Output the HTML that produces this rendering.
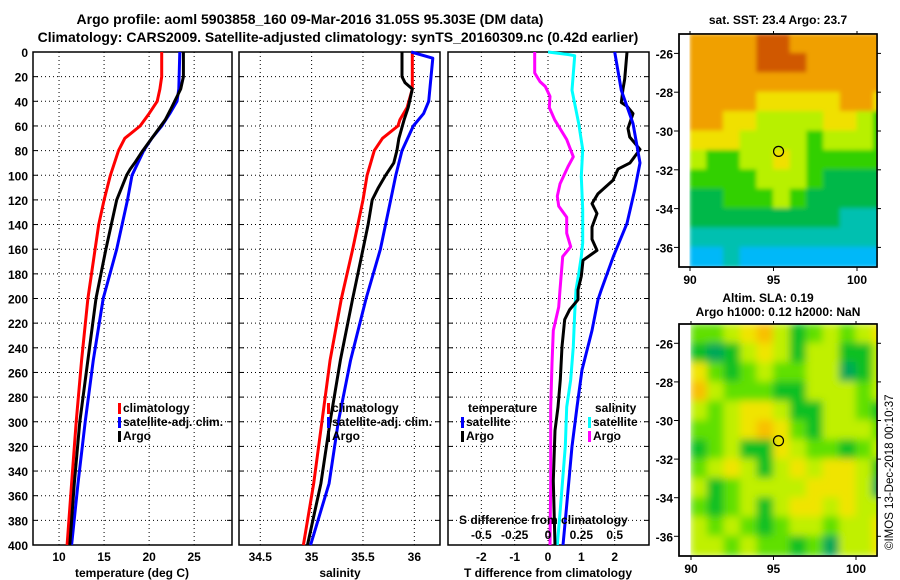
<!DOCTYPE html>
<html><head><meta charset="utf-8"><style>
html,body{margin:0;padding:0;background:#fff;}
svg{display:block;}
text{font-family:"Liberation Sans",sans-serif;font-weight:bold;fill:#000;}
</style></head><body>
<svg id="c" width="900" height="580" viewBox="0 0 900 580">
<defs>
<filter id="blur1" x="0" y="0" width="100%" height="100%"><feGaussianBlur stdDeviation="2"/></filter>
<filter id="blur2" x="0" y="0" width="100%" height="100%"><feGaussianBlur stdDeviation="4"/></filter>
<clipPath id="clipTop"><rect x="689" y="34" width="188" height="233"/></clipPath>
<clipPath id="clipBot"><rect x="689" y="324" width="188" height="232"/></clipPath>
</defs>
<text x="310" y="24" font-size="14" text-anchor="middle">Argo profile: aoml 5903858_160 09-Mar-2016 31.05S 95.303E (DM data)</text>
<text x="338" y="42" font-size="14" text-anchor="middle">Climatology: CARS2009. Satellite-adjusted climatology: synTS_20160309.nc (0.42d earlier)</text>
<g id="g"></g>
<text x="778" y="24" font-size="12" text-anchor="middle">sat. SST: 23.4 Argo: 23.7</text>
<text x="768" y="302" font-size="12" text-anchor="middle">Altim. SLA: 0.19</text>
<text x="778" y="316" font-size="12" text-anchor="middle">Argo h1000: 0.12 h2000: NaN</text>
<text transform="translate(893,550) rotate(-90)" font-size="11.5" style="font-weight:normal">©IMOS 13-Dec-2018 00:10:37</text>
</svg>
<script>
// ---------- data ----------
const depthTicks=[0,20,40,60,80,100,120,140,160,180,200,220,240,260,280,300,320,340,360,380,400];
const tempTicks=[10,15,20,25];
const salTicks=[34.5,35,35.5,36];
const tdiffTicks=[-2,-1,0,1,2];
const sdiffTicks=[-0.5,-0.25,0,0.25,0.5];
const sdiffLabels=["-0.5","-0.25","0","0.25","0.5"];
const tClimD=[0,20,30,40,50,60,70,80,100,120,140,160,200,250,300,350,400];
const tClimV=[21.4,21.4,21.2,20.9,20.0,19.0,17.3,16.6,15.7,15.0,14.4,14.0,13.2,12.5,11.9,11.4,10.9];
const tSatD=[0,30,40,50,60,70,80,100,120,160,200,250,300,350,400];
const tSatV=[23.4,23.3,23.1,22.3,21.4,20.3,19.4,18.1,17.6,16.4,14.9,13.8,12.9,12.1,11.4];
const tArgoD=[0,20,30,45,55,70,80,90,95,100,120,140,160,200,250,300,350,400];
const tArgoV=[23.8,23.8,23.5,22.5,21.8,20.3,19.3,18.4,17.9,17.5,16.4,15.8,15.2,14.1,13.2,12.3,11.7,11.2];
const sClimD=[0,30,45,55,60,70,80,100,120,160,200,250,300,350,400];
const sClimV=[35.98,35.98,35.93,35.86,35.84,35.69,35.61,35.54,35.50,35.40,35.29,35.18,35.10,35.02,34.92];
const sSatD=[0,5,40,50,60,80,100,120,160,200,250,300,350,400];
const sSatV=[35.97,36.18,36.14,36.09,35.99,35.88,35.82,35.77,35.67,35.53,35.38,35.26,35.17,34.99];
const sArgoD=[0,20,25,30,45,55,70,80,90,100,110,120,140,160,200,250,300,350,400];
const sArgoV=[35.88,35.88,35.91,35.98,35.94,35.90,35.85,35.83,35.80,35.72,35.65,35.59,35.55,35.50,35.40,35.28,35.18,35.09,34.96];
const dtSatD=[0,31,58,90,112,139,166,193,201,226,258,288,320,374,400];
const dtSatV=[2.0,2.2,2.55,2.76,2.6,2.37,1.96,1.6,1.5,1.32,1.02,0.87,0.72,0.54,0.45];
const dtArgoD=[0,22,30,41,44,50,62,69,79,90,95,104,115,123,131,142,152,161,169,182,193,201,209,217,239,266,288,307,348,400];
const dtArgoV=[2.37,2.3,2.25,2.2,2.37,2.55,2.4,2.45,2.76,2.46,2.1,1.95,1.5,1.32,1.47,1.32,1.32,1.47,1.05,1.0,0.9,0.9,0.65,0.5,0.42,0.37,0.3,0.21,0.16,0.21];
const dsSatD=[0,2,3,31,58,79,101,128,155,166,180,193,212,239,266,288,320,374,400];
const dsSatV=[0,0.15,0.2,0.18,0.23,0.26,0.25,0.26,0.26,0.25,0.23,0.21,0.2,0.19,0.17,0.14,0.13,0.09,0.07];
const dsArgoD=[0,17,24,28,36,45,55,71,85,93,107,117,125,134,147,158,166,193,207,226,253,288,348,400];
const dsArgoV=[-0.1,-0.1,-0.06,-0.02,0.015,0.01,0.05,0.14,0.19,0.15,0.09,0.07,0.08,0.14,0.14,0.17,0.11,0.09,0.08,0.04,0.03,0.02,0.02,0.015];
const sstLat=[-25.5,-26.5,-27.5,-28.5,-29.5,-30.5,-31.5,-32.5,-33.5,-34.5,-35.5,-36.5];
const sstLon=[90.5,91.5,92.5,93.5,94.5,95.5,96.5,97.5,98.5,99.5,100.5,101.5];
const sstGrid=[
[1,1,1,0.5,0,0,0.5,1,1,1,1,1],
[1,1,1,0.5,0,0,0,1,1,1,1,1],
[1,1,1,1,0.5,0.5,1,1,1,1,1,1],
[1,1,1,1,1.5,2,2,2,1.5,1,1,1.5],
[1,1,1.5,2,3,3,3,2.5,2,2,2.5,4],
[2,1.5,2,2.5,3,2.5,2.5,3.5,3,2.5,3,4],
[3,3.5,3.5,2.5,3,2,3,4,4,4,4,4],
[4,4,4,3.5,3,2.5,3,4,4.5,5,5,5],
[4.5,4.5,4,4,3.5,3,3.5,5,5,5,5,5],
[5,5,5,5,4.5,5,5,5,5,5.5,6,6],
[5.5,5.5,6,5.5,5.5,6,6,6,6,6,6,6],
[6.5,6.5,6,6.5,7,7,7,7,7,6.5,7,7]];
const slaLat=[-25.5,-26.5,-27.5,-28.5,-29.5,-30.5,-31.5,-32.5,-33.5,-34.5,-35.5,-36.5];
const slaLon=[90.5,91.5,92.5,93.5,94.5,95.5,96.5,97.5,98.5,99.5,100.5,101.5];
const slaGrid=[
[1,1,2,3,4,2,0,1,2,1,2,3],
[0,-1,0,2,3,2,0,2,2,0,0,2],
[3,1,0,1,2,1,1,2,2,-1,0,2],
[4,2,1,1,1,0,0,2,2,2,1,2],
[2,1,2,3,3,2,0,0,2,2,1,0],
[1,1,2,3,4,3,1,0,2,2,2,1],
[0,1,2,0,0,3,2,1,1,0,1,2],
[1,2,3,2,0,2,3,2,3,3,2,0],
[2,0,1,2,2,2,2,3,3,3,2,-1],
[1,0,1,2,0,2,3,3,2,3,2,2],
[2,1,2,1,0,1,2,2,1,2,2,3],
[2,2,1,2,1,1,0,1,-1,2,2,3]];
const latTicks=[-26,-28,-30,-32,-34,-36];
const lonTicks=[90,95,100];
const argoLon=95.303, argoLat=-31.05;

// ---------- helpers ----------
const NS='http://www.w3.org/2000/svg';
const G=document.getElementById('g');
function mk(tag,at,parent){const e=document.createElementNS(NS,tag);for(const k in at)e.setAttribute(k,at[k]);(parent||G).appendChild(e);return e;}
const yTop=52,yBot=545;
function yD(d){return yTop+(yBot-yTop)*d/400;}
const panels=[
 {x0:33,x1:232,v0:7.11,v1:29.2},
 {x0:239,x1:440,v0:34.293,v1:36.25},
 {x0:448,x1:649,v0:-3.0,v1:3.03}
];
function xf(p,v){return p.x0+(p.x1-p.x0)*(v-p.v0)/(p.v1-p.v0);}
function sx(v){return xf(panels[2],v*4);}

function drawFrame(p,name,vt){
  for(const d of depthTicks){if(d===0||d===400)continue;
    const l=mk('line',{x1:p.x0,x2:p.x1,y1:yD(d),y2:yD(d),stroke:'#000','stroke-width':1,'stroke-dasharray':'1,3'});
    
    
    mk('line',{x1:p.x0,x2:p.x0+5,y1:yD(d),y2:yD(d),stroke:'#000'});
    mk('line',{x1:p.x1-5,x2:p.x1,y1:yD(d),y2:yD(d),stroke:'#000'});
  }
  for(const v of vt){const x=xf(p,v);
    const l=mk('line',{x1:x,x2:x,y1:yTop,y2:yBot,stroke:'#000','stroke-width':1,'stroke-dasharray':'1,3'});
    
    
  }
  const r=mk('rect',{x:p.x0,y:yTop,width:p.x1-p.x0,height:yBot-yTop,fill:'none',stroke:'#000','stroke-width':1.5});
  
  
}
function line(p,D,V,color,name,fn){
  let s='';for(let i=0;i<D.length;i++){const x=fn?fn(V[i]):xf(p,V[i]);s+=(i?'L':'M')+x.toFixed(1)+','+yD(D[i]).toFixed(1);}
  const e=mk('path',{d:s,fill:'none',stroke:color,'stroke-width':3,'stroke-linejoin':'round'});
  
  
}
function txt(x,y,s,size,anchor,name){const t=mk('text',{x:x,y:y,'font-size':size,'text-anchor':anchor||'start'});t.textContent=s;
  
  return t;}
function legend(x,y,color,label,name){
  const r=mk('rect',{x:x,y:y-9,width:3,height:11,fill:color});
  
  
  txt(x+5,y,label,12,'start',name+'-label');
}

drawFrame(panels[0],'temperature-panel',tempTicks);
drawFrame(panels[1],'salinity-panel',salTicks);
drawFrame(panels[2],'difference-panel',tdiffTicks);
for(const d of depthTicks)txt(28,yD(d)+5,String(d),12,'end','depth-tick-label');
for(const v of tempTicks)txt(xf(panels[0],v),561,String(v),12,'middle','temperature-tick-label');
for(const v of salTicks)txt(xf(panels[1],v),561,String(v),12,'middle','salinity-tick-label');
for(const v of tdiffTicks)txt(xf(panels[2],v),561,String(v),12,'middle','tdiff-tick-label');
txt(132,577,'temperature (deg C)',12,'middle','temperature-axis-title');
txt(340,577,'salinity',12,'middle','salinity-axis-title');
txt(548,577,'T difference from climatology',12,'middle','tdiff-axis-title');

line(panels[0],tClimD,tClimV,'#ff0000','temp-climatology-line');
line(panels[0],tSatD,tSatV,'#0000ff','temp-satellite-line');
line(panels[0],tArgoD,tArgoV,'#000000','temp-argo-line');
line(panels[1],sClimD,sClimV,'#ff0000','sal-climatology-line');
line(panels[1],sSatD,sSatV,'#0000ff','sal-satellite-line');
line(panels[1],sArgoD,sArgoV,'#000000','sal-argo-line');
line(panels[2],dsArgoD,dsArgoV,'#ff00ff','sdiff-argo-line',sx);
line(panels[2],dsSatD,dsSatV,'#00ffff','sdiff-satellite-line',sx);
line(panels[2],dtArgoD,dtArgoV,'#000000','tdiff-argo-line');
line(panels[2],dtSatD,dtSatV,'#0000ff','tdiff-satellite-line');

legend(118,412,'#ff0000','climatology','temp-legend-climatology');
legend(118,426,'#0000ff','satellite-adj. clim.','temp-legend-satellite');
legend(118,440,'#000000','Argo','temp-legend-argo');
legend(327,412,'#ff0000','climatology','sal-legend-climatology');
legend(327,426,'#0000ff','satellite-adj. clim.','sal-legend-satellite');
legend(327,440,'#000000','Argo','sal-legend-argo');
txt(468,412,'temperature',12,'start','diff-legend-temp-header');
legend(461,426,'#0000ff','satellite','diff-legend-temp-satellite');
legend(461,440,'#000000','Argo','diff-legend-temp-argo');
txt(595,412,'salinity',12,'start','diff-legend-sal-header');
legend(588,426,'#00ffff','satellite','diff-legend-sal-satellite');
legend(588,440,'#ff00ff','Argo','diff-legend-sal-argo');
txt(459,524,'S difference from climatology',12,'start','sdiff-axis-title');
for(let i=0;i<sdiffTicks.length;i++)txt(sx(sdiffTicks[i]),539,sdiffLabels[i],12,'middle','sdiff-tick-label');

const sstPal=['#d05800','#f0a000','#f0e000','#b8f000','#30d000','#00b848','#00c0b0','#00b8f8','#0050e8'];
const slaPal=['#00a858','#10c020','#60e000','#c0f000','#f0e400','#f8c000'];
function pal(P,v){const i=Math.max(0,Math.min(P.length-1,Math.round(v)));return P[i];}
function drawMap(m){
  const lx=v=>m.x90+(v-90)*m.pxLon, ly=v=>m.yTop+(-25-v)*m.pxLat;
  const fr=mk('rect',{x:m.fx,y:m.yTop,width:m.x1-m.fx,height:m.yB-m.yTop,fill:'#fff',stroke:'#000','stroke-width':1.5});
  
  
  const cg=mk('g',{'clip-path':'url(#'+m.clip+')'});
  const ig=mk('g',{filter:'url(#'+m.filter+')'},cg);
  for(let r=0;r<m.lat.length;r++)for(let c=0;c<m.lon.length;c++){
    const x=lx(m.lon[c]-0.5),y=ly(m.lat[r]+0.5);
    const e=mk('rect',{x:x-0.5,y:y-0.5,width:m.pxLon+1.5,height:m.pxLat+1.5,fill:pal(m.P,m.grid[r][c]+m.off)},ig);
    
    
  }
  mk('rect',{x:m.fx,y:m.yTop,width:m.x1-m.fx,height:m.yB-m.yTop,fill:'none',stroke:'#000','stroke-width':1.5});
  for(const t of latTicks){const y=ly(t);
    mk('line',{x1:m.fx,x2:m.fx-5,y1:y,y2:y,stroke:'#000'});mk('line',{x1:m.x1,x2:m.x1+4,y1:y,y2:y,stroke:'#000'});
    txt(m.fx-6,y+5,String(t),12,'end',m.name+'-lat-label');}
  for(const t of lonTicks){const x=lx(t);
    mk('line',{x1:x,x2:x,y1:m.yB,y2:m.yB+4,stroke:'#000'});mk('line',{x1:x,x2:x,y1:m.yTop,y2:m.yTop-3,stroke:'#000'});
    txt(x,m.yB+17,String(t),12,'middle',m.name+'-lon-label');}
  const ci=mk('circle',{cx:lx(argoLon),cy:ly(argoLat),r:5,fill:'none',stroke:'#000','stroke-width':1.2});
  
  
}
drawMap({name:'sst-map',fx:679,x1:877,yTop:34,yB:267,x90:690,pxLon:16.7,pxLat:19.4,lat:sstLat,lon:sstLon,grid:sstGrid,P:sstPal,off:0,clip:'clipTop',filter:'blur1'});
drawMap({name:'sla-map',fx:679,x1:877,yTop:324,yB:556,x90:691,pxLon:16.5,pxLat:19.3,lat:slaLat,lon:slaLon,grid:slaGrid,P:slaPal,off:1,clip:'clipBot',filter:'blur2'});
</script>
</body></html>
